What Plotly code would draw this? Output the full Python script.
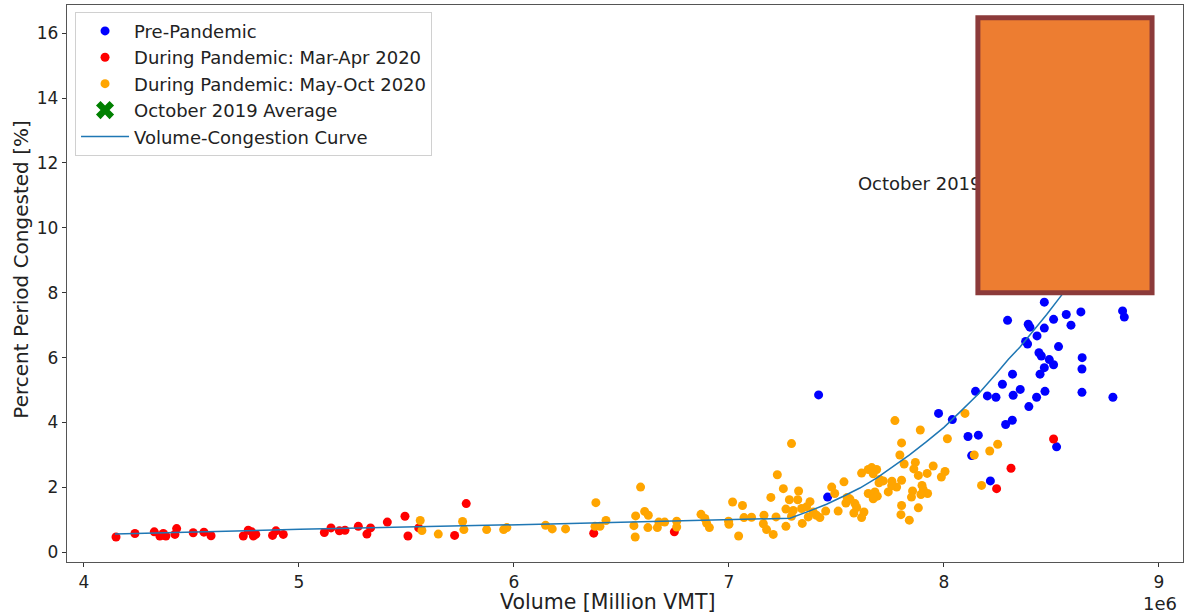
import plotly.graph_objects as go

# ---- data ----
pre_x = [8.467, 8.296, 8.392, 8.400, 8.467, 8.510, 8.569, 8.637, 8.591, 8.831, 8.839,
         8.433, 8.380, 8.389, 8.533, 8.442, 8.453, 8.490, 8.510, 8.467, 8.447, 8.643,
         8.642, 8.642, 8.786, 8.319, 8.272, 8.355, 8.322, 8.470, 8.431, 8.395, 8.147,
         8.202, 8.242, 8.318, 8.287, 7.975, 8.039, 8.112, 8.160, 8.129, 8.524, 8.216,
         7.417, 7.459]
pre_y = [7.71, 7.15, 7.03, 6.94, 6.91, 7.18, 7.33, 7.41, 7.00, 7.44, 7.25,
         6.67, 6.50, 6.42, 6.34, 6.15, 6.05, 5.94, 5.78, 5.69, 5.49, 6.00,
         5.65, 4.93, 4.78, 5.49, 5.18, 5.02, 4.84, 4.96, 4.78, 4.49, 4.96,
         4.82, 4.78, 4.07, 3.94, 4.28, 4.09, 3.57, 3.61, 2.98, 3.25, 2.20,
         4.85, 1.70]

marapr_x = [4.149, 4.237, 4.327, 4.353, 4.369, 4.381, 4.423, 4.431, 4.508, 4.558, 4.591,
            4.741, 4.764, 4.780, 4.788, 4.799, 4.877, 4.893, 4.927, 5.118, 5.149, 5.188,
            5.214, 5.276, 5.316, 5.333, 5.411, 5.493, 5.507, 5.557, 5.724, 5.778, 6.371,
            6.746, 8.510, 8.312, 8.245]
marapr_y = [0.47, 0.58, 0.63, 0.50, 0.58, 0.50, 0.55, 0.73, 0.60, 0.62, 0.51,
            0.50, 0.68, 0.63, 0.50, 0.55, 0.52, 0.66, 0.55, 0.61, 0.75, 0.66,
            0.68, 0.80, 0.56, 0.75, 0.93, 1.11, 0.50, 0.75, 0.52, 1.50, 0.59,
            0.63, 3.49, 2.59, 1.96]

mayoct_x = [5.564, 5.572, 5.648, 5.761, 5.767, 5.873, 5.952, 5.967, 6.147, 6.178, 6.240,
            6.381, 6.377, 6.400, 6.428, 6.589, 6.566, 6.608, 6.625, 6.558, 6.564, 6.623,
            6.667, 6.674, 6.701, 6.757, 6.757, 6.870, 6.888, 6.896, 6.909, 7.017, 6.998,
            7.000, 7.045, 7.063, 7.070, 7.105, 7.163, 7.160, 7.175, 7.206, 7.195, 7.225,
            7.265, 7.219,
            7.772, 7.890, 8.016, 7.291, 7.803, 7.795, 7.815, 7.867, 7.860, 7.881, 7.922,
            7.950, 8.005, 7.988, 7.253, 7.324, 7.281, 7.320, 7.377, 7.265, 7.299, 7.338,
            7.361, 7.392, 7.407, 7.369, 7.423, 7.450, 7.291, 7.341, 7.478, 7.492, 7.535,
            7.508, 7.550, 7.544, 7.563, 7.586, 7.594, 7.581, 7.628, 7.617, 7.617, 7.648,
            7.664, 7.687, 7.671, 7.702, 7.718, 7.698, 7.758, 7.803, 7.780, 7.757, 7.741,
            7.648, 7.679, 7.690, 7.671, 7.898, 7.904, 7.924, 7.893, 7.854, 7.849, 7.803,
            7.881, 7.800, 7.839,
            8.098, 8.141, 8.213, 8.250, 8.175]
mayoct_y = [0.98, 0.67, 0.56, 0.95, 0.70, 0.70, 0.70, 0.76, 0.83, 0.72, 0.72,
            1.53, 0.80, 0.80, 0.98, 2.01, 1.12, 1.26, 1.14, 0.82, 0.47, 0.76,
            0.76, 0.93, 0.93, 0.96, 0.78, 1.17, 1.04, 0.90, 0.76, 1.55, 0.96,
            0.86, 0.50, 1.44, 1.07, 1.08, 1.14, 0.88, 0.70, 0.55, 1.69, 2.39,
            0.80, 1.09,
            4.06, 3.77, 3.50, 3.35, 3.37, 3.00, 2.72, 2.77, 2.57, 2.37, 2.43,
            2.66, 2.49, 2.32, 1.96, 1.89, 1.62, 1.62, 1.56, 1.33, 1.29, 1.35,
            1.40, 1.24, 1.14, 1.09, 1.07, 1.27, 1.11, 0.89, 2.01, 1.81, 2.17,
            1.27, 1.69, 1.52, 1.64, 1.50, 1.38, 1.21, 1.24, 1.07, 2.44, 2.55,
            2.61, 2.55, 2.42, 2.24, 2.20, 2.14, 2.19, 2.22, 2.01, 2.05, 1.86,
            1.81, 1.86, 1.73, 1.65, 2.06, 1.93, 1.81, 1.78, 1.89, 1.70, 1.44,
            1.37, 1.16, 0.99,
            4.28, 3.00, 3.12, 3.33, 2.06]

oct2019_x = [8.62]
oct2019_y = [11.3]

curve_x = [4.144, 5.005, 6.167, 7.144, 7.284, 7.37, 7.454, 7.53, 7.609, 7.69, 7.764,
           7.84, 7.919, 8.00, 8.074, 8.16, 8.245, 8.30, 8.353, 8.42, 8.478, 8.550,
           8.70, 8.876]
curve_y = [0.56, 0.71, 0.87, 1.01, 1.05, 1.26, 1.48, 1.72, 1.98, 2.30, 2.65,
           3.00, 3.41, 3.85, 4.32, 4.88, 5.52, 5.95, 6.32, 6.85, 7.33, 7.95,
           9.3, 11.0]

label_text = ["October 2019 Average"]
label_x = [7.60]
label_y = [11.31]

x_ticks = [4, 5, 6, 7, 8, 9]
y_ticks = [0, 2, 4, 6, 8, 10, 12, 14, 16]

FONT = "DejaVu Sans"
TXT = "#222222"

fig = go.Figure()
fig.add_trace(go.Scatter(x=pre_x, y=pre_y, mode="markers", name="Pre-Pandemic",
                         marker=dict(color="#0000ff", size=9)))
fig.add_trace(go.Scatter(x=marapr_x, y=marapr_y, mode="markers",
                         name="During Pandemic: Mar-Apr 2020",
                         marker=dict(color="#ff0000", size=9)))
fig.add_trace(go.Scatter(x=mayoct_x, y=mayoct_y, mode="markers",
                         name="During Pandemic: May-Oct 2020",
                         marker=dict(color="#ffa500", size=9)))
fig.add_trace(go.Scatter(x=oct2019_x, y=oct2019_y, mode="markers",
                         name="October 2019 Average",
                         marker=dict(color="#008000", size=16, symbol="x")))
fig.add_trace(go.Scatter(x=curve_x, y=curve_y, mode="lines",
                         name="Volume-Congestion Curve",
                         line=dict(color="#1f77b4", width=1.5)))
fig.add_trace(go.Scatter(x=label_x, y=label_y, mode="text", text=label_text,
                         textposition="middle right", showlegend=False,
                         textfont=dict(family=FONT, size=18, color=TXT)))

# redaction box
fig.add_shape(type="rect", xref="x", yref="y", x0=8.158, x1=8.968, y0=8.00, y1=16.48,
              fillcolor="#ED7D31", line=dict(color="#8C3A3A", width=5), layer="above")

axis_common = dict(showgrid=False, zeroline=False, showline=True, mirror=True,
                   linecolor="#555555", linewidth=1.3, ticks="outside", ticklen=4,
                   tickcolor="#333333", tickwidth=1,
                   tickfont=dict(family=FONT, size=17, color=TXT))
fig.update_xaxes(range=[3.921, 9.112], tickvals=x_ticks, **axis_common)
fig.update_yaxes(range=[-0.30, 16.87], tickvals=y_ticks, **axis_common)

fig.add_annotation(text="Volume [Million VMT]", xref="paper", yref="paper",
                   x=0.4848, y=-0.072, showarrow=False, xanchor="center", yanchor="middle",
                   font=dict(family=FONT, size=20.5, color=TXT))
fig.add_annotation(text="Percent Period Congested [%]", xref="paper", yref="paper",
                   x=-0.042, y=0.525, showarrow=False, textangle=-90,
                   xanchor="center", yanchor="middle",
                   font=dict(family=FONT, size=20, color=TXT))
fig.add_annotation(text="1e6", xref="paper", yref="paper", x=0.979, y=-0.074,
                   showarrow=False, xanchor="center", yanchor="middle",
                   font=dict(family=FONT, size=18, color=TXT))

fig.update_layout(
    width=1190, height=615,
    margin=dict(l=67, r=7, t=5, b=53),
    paper_bgcolor="white", plot_bgcolor="white",
    showlegend=True,
    legend=dict(x=0.0072, y=0.988, xanchor="left", yanchor="top",
                bgcolor="rgba(255,255,255,0.9)", bordercolor="#d0d0d0", borderwidth=1,
                font=dict(family=FONT, size=18, color=TXT), itemwidth=48,
                tracegroupgap=0),
    font=dict(family=FONT, color=TXT),
)

fig.write_html("out.html", config={"displayModeBar": False},
               post_script="document.body.style.margin='0px';document.body.style.padding='0px';")
